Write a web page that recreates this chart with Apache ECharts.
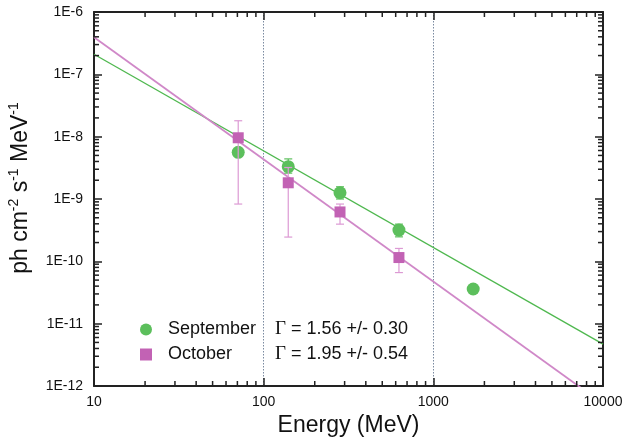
<!DOCTYPE html>
<html>
<head>
<meta charset="utf-8">
<style>
  html, body { margin: 0; padding: 0; background: #fff; }
  #chart { width: 624px; height: 439px; }
</style>
<script src="https://cdn.jsdelivr.net/npm/echarts@6/dist/echarts.min.js"></script>
</head>
<body>
<div id="chart"></div>
<script>
// 数据 ==========================================
const seriesNames = ['September', 'October'];
const gammaText = ['Γ = 1.56 +/- 0.30', 'Γ = 1.95 +/- 0.54'];

// [energy MeV, flux]
const septPoints = [[70.8, 5.6e-9], [139.6, 3.3e-9], [281.8, 1.26e-9], [627, 3.17e-10], [1718, 3.6e-11]];
const octPoints = [[70.8, 9.6e-9], [139.6, 1.82e-9], [281.8, 6.2e-10], [627, 1.15e-10]];

// [energy MeV, low, high]
const septErrors = [[139.6, 2.6e-9, 4.4e-9], [281.8, 1.0e-9, 1.57e-9], [627, 2.47e-10, 3.95e-10]];
const octErrors = [[70.8, 8.3e-10, 1.8e-8], [139.6, 2.45e-10, 3.2e-9], [281.8, 3.95e-10, 8.3e-10], [627, 6.6e-11, 1.61e-10]];

// 拟合直线端点
const septFit = [[10, 2.1e-7], [10000, 4.7e-12]];
const octFit = [[10, 3.93e-7], [10000, 5.2e-13]];

const xMinorTicks = [20, 30, 40, 50, 60, 70, 80, 90, 200, 300, 400, 500, 600, 700, 800, 900,
    2000, 3000, 4000, 5000, 6000, 7000, 8000, 9000];
const yDecades = [1e-12, 1e-11, 1e-10, 1e-9, 1e-8, 1e-7];

const green = '#5cbf5c';
const greenLine = '#4fb84f';
const pink = '#c262b4';
const pinkLine = '#d088c8';
const pinkBar = '#dc9ad4';

const yMinorTicks = [];
yDecades.forEach(d => {
    for (let k = 2; k <= 9; k++) yMinorTicks.push(d * k);
});

// 工具函数 ==========================================
function errorBarSeries(color, bars, z) {
    return {
        type: 'custom',
        z: z,
        silent: true,
        encode: { x: 0, y: [1, 2] },
        data: bars,
        renderItem: function (params, api) {
            const x = api.value(0);
            const lo = api.coord([x, api.value(1)]);
            const hi = api.coord([x, api.value(2)]);
            const w = 4;
            const st = { stroke: color, lineWidth: 1.2 };
            return {
                type: 'group',
                children: [
                    { type: 'line', shape: { x1: lo[0], y1: lo[1], x2: hi[0], y2: hi[1] }, style: st },
                    { type: 'line', shape: { x1: lo[0] - w, y1: lo[1], x2: lo[0] + w, y2: lo[1] }, style: st },
                    { type: 'line', shape: { x1: hi[0] - w, y1: hi[1], x2: hi[0] + w, y2: hi[1] }, style: st }
                ]
            };
        }
    };
}

// 对数轴的次刻度 (2..9)
function minorTickSeries(isX, values) {
    return {
        type: 'custom',
        silent: true,
        z: 10,
        encode: { x: 0, y: 1 },
        data: values.map(v => isX ? [v, 1e-9] : [100, v]),
        renderItem: function (params, api) {
            const cs = params.coordSys;
            const p = api.coord([api.value(0), api.value(1)]);
            const len = 5;
            const st = { stroke: '#222', lineWidth: 1.5 };
            if (isX) {
                const b = cs.y + cs.height;
                return {
                    type: 'group', children: [
                        { type: 'line', shape: { x1: p[0], y1: b, x2: p[0], y2: b - len }, style: st },
                        { type: 'line', shape: { x1: p[0], y1: cs.y, x2: p[0], y2: cs.y + len }, style: st }
                    ]
                };
            }
            const r = cs.x + cs.width;
            return {
                type: 'group', children: [
                    { type: 'line', shape: { x1: cs.x, y1: p[1], x2: cs.x + len, y2: p[1] }, style: st },
                    { type: 'line', shape: { x1: r, y1: p[1], x2: r - len, y2: p[1] }, style: st }
                ]
            };
        }
    };
}

const axisLine = { show: true, onZero: false, lineStyle: { color: '#222', width: 2 } };
const majorTick = { show: true, inside: true, length: 8, lineStyle: { color: '#222', width: 1.5 } };
const font = 'Liberation Sans, Arial, sans-serif';
const serif = 'Liberation Serif, Times New Roman, serif';

const chart = echarts.init(document.getElementById('chart'), null, { renderer: 'canvas' });

const option = {
    animation: false,
    backgroundColor: '#fff',
    textStyle: { fontFamily: font },
    grid: { left: 94, right: 21, top: 12, bottom: 53, outerBoundsMode: 'none', containLabel: false },
    legend: {
        data: [
            { name: seriesNames[0], icon: 'circle' },
            { name: seriesNames[1], icon: 'rect' }
        ],
        orient: 'vertical',
        left: 135,
        top: 315,
        itemWidth: 12,
        itemHeight: 12,
        itemGap: 6,
        selectedMode: false,
        formatter: function (name) {
            const t = gammaText[seriesNames.indexOf(name)];
            return '{n|' + name + '}{s|' + t.charAt(0) + '}{g|' + t.slice(1) + '}';
        },
        textStyle: {
            color: '#111',
            fontFamily: font,
            fontSize: 18,
            rich: {
                n: { width: 107, padding: [0, 0, 0, 11], fontSize: 18, fontFamily: font, color: '#111' },
                s: { fontSize: 19, fontFamily: serif, color: '#111' },
                g: { fontSize: 18, fontFamily: font, color: '#111' }
            }
        }
    },
    xAxis: [{
        type: 'log',
        min: 10,
        max: 10000,
        logBase: 10,
        name: 'Energy (MeV)',
        nameLocation: 'middle',
        nameGap: 20,
        nameTextStyle: { fontSize: 23, color: '#111', fontFamily: font },
        axisLine: axisLine,
        axisTick: majorTick,
        axisLabel: {
            fontSize: 14,
            color: '#111',
            margin: 9,
            fontFamily: font,
            formatter: v => String(Math.round(v))
        },
        splitLine: { show: true, lineStyle: { color: '#7a8aa0', type: [1.5, 1.5], width: 1 } }
    }, {
        type: 'log',
        min: 10,
        max: 10000,
        position: 'top',
        axisLine: axisLine,
        axisTick: majorTick,
        axisLabel: { show: false },
        splitLine: { show: false }
    }],
    yAxis: [{
        type: 'log',
        min: 1e-12,
        max: 1e-6,
        logBase: 10,
        name: 'ph cm{s|-2} s{s|-1} MeV{s|-1}',
        nameLocation: 'middle',
        nameGap: 55,
        nameTextStyle: {
            fontSize: 23,
            color: '#111',
            fontFamily: font,
            lineHeight: 28,
            padding: [0, 0, 0, 22],
            rich: {
                s: { fontSize: 14, lineHeight: 14, verticalAlign: 'top', color: '#111', fontFamily: font }
            }
        },
        axisLine: axisLine,
        axisTick: majorTick,
        axisLabel: {
            fontSize: 14,
            color: '#111',
            margin: 11,
            fontFamily: font,
            formatter: v => '1E' + Math.round(Math.log10(v))
        },
        splitLine: { show: false }
    }, {
        type: 'log',
        min: 1e-12,
        max: 1e-6,
        position: 'right',
        axisLine: axisLine,
        axisTick: majorTick,
        axisLabel: { show: false },
        splitLine: { show: false }
    }],
    series: [
        {
            type: 'line',
            data: septFit,
            symbol: 'none',
            lineStyle: { color: greenLine, width: 1.3 },
            z: 2,
            silent: true
        },
        {
            type: 'line',
            data: octFit,
            symbol: 'none',
            lineStyle: { color: pinkLine, width: 1.8 },
            z: 2,
            silent: true
        },
        errorBarSeries(green, septErrors, 3),
        {
            name: seriesNames[0],
            type: 'scatter',
            data: septPoints,
            symbol: 'circle',
            symbolSize: 13,
            itemStyle: { color: green, opacity: 1 },
            z: 4
        },
        errorBarSeries(pinkBar, octErrors, 5),
        {
            name: seriesNames[1],
            type: 'scatter',
            data: octPoints,
            symbol: 'rect',
            symbolSize: 11,
            itemStyle: { color: pink, opacity: 1 },
            z: 6
        },
        minorTickSeries(true, xMinorTicks),
        minorTickSeries(false, yMinorTicks)
    ]
};

chart.setOption(option);
window.addEventListener('resize', () => chart.resize());
</script>
</body>
</html>
